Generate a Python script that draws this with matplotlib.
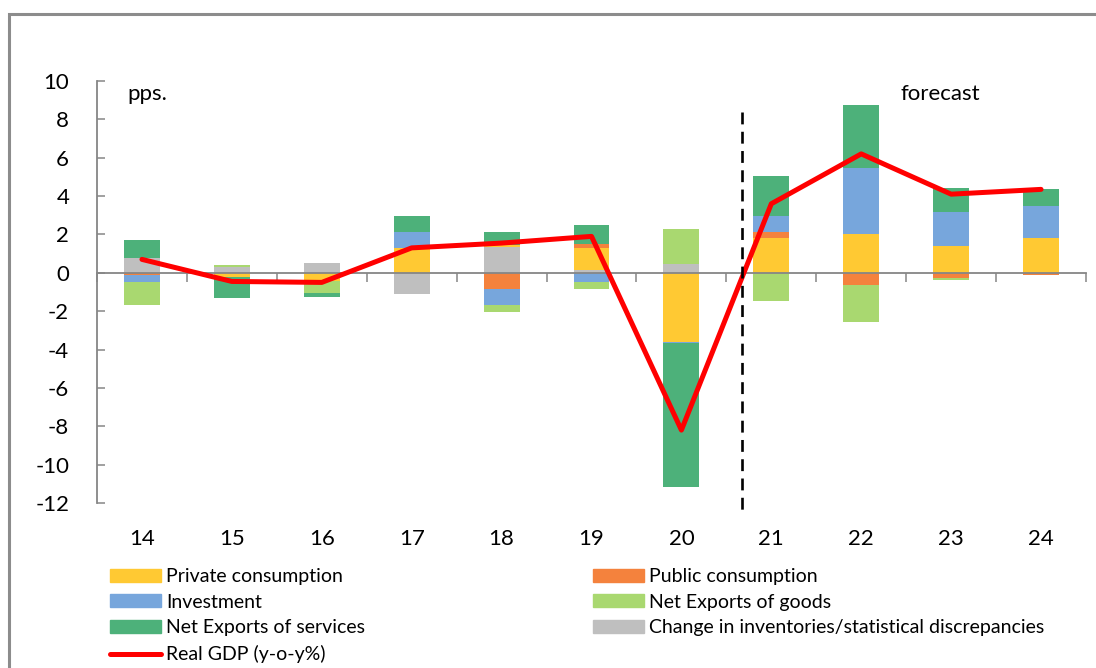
import matplotlib
matplotlib.use("Agg")
import matplotlib.pyplot as plt
from matplotlib.patches import Patch, Rectangle
from matplotlib.lines import Line2D
import numpy as np

plt.rcParams['font.family'] = ['Lato', 'DejaVu Sans']

years = ["14", "15", "16", "17", "18", "19", "20", "21", "22", "23", "24"]

inventories = [0.75, 0.30, 0.49, -1.10, 1.37, 0.16, 0.47, 0.0, 0.0, 0.0, 0.0]
private_cons = [0.0, -0.24, -0.45, 1.29, 0.07, 1.15, -3.60, 1.80, 2.02, 1.41, 1.82]
public_cons = [-0.10, 0.0, 0.0, 0.0, -0.85, 0.19, 0.0, 0.33, -0.66, -0.26, -0.12]
investment = [-0.40, 0.0, 0.0, 0.86, -0.82, -0.50, -0.05, 0.82, 3.47, 1.74, 1.67]
net_goods = [-1.20, 0.10, -0.60, 0.0, -0.38, -0.33, 1.81, -1.46, -1.93, -0.12, 0.0]
net_services = [0.95, -1.06, -0.19, 0.82, 0.71, 0.99, -7.50, 2.12, 3.26, 1.25, 0.90]
real_gdp = [0.70, -0.45, -0.50, 1.30, 1.55, 1.90, -8.20, 3.60, 6.20, 4.10, 4.35]

yticks = [10, 8, 6, 4, 2, 0, -2, -4, -6, -8, -10, -12]
forecast_x = 6.67

C_PRIV = '#FFC933'
C_PUB = '#F4823D'
C_INV = '#77A6DC'
C_GOODS = '#A9D870'
C_SERV = '#4DB17A'
C_INVT = '#BFBFBF'
C_AXIS = '#868686'

# stacking order (as drawn): inventories, private, public, investment, goods, services
stack = [
    (inventories, C_INVT),
    (private_cons, C_PRIV),
    (public_cons, C_PUB),
    (investment, C_INV),
    (net_goods, C_GOODS),
    (net_services, C_SERV),
]

fig = plt.figure(figsize=(10.96, 6.68), dpi=100)
ax = fig.add_axes([97/1096, 1-503/668, (1086-97)/1096, (503-81)/668])

x = np.arange(len(years))
pos_base = np.zeros(len(years))
neg_base = np.zeros(len(years))
for vals, col in stack:
    v = np.array(vals, dtype=float)
    bottoms = np.where(v >= 0, pos_base, neg_base)
    ax.bar(x, v, width=0.4, bottom=bottoms, color=col, edgecolor='none', zorder=2)
    pos_base = pos_base + np.where(v > 0, v, 0)
    neg_base = neg_base + np.where(v < 0, v, 0)

ax.plot(x, real_gdp, color='#FF0000', lw=3.6, solid_joinstyle='round',
        solid_capstyle='round', zorder=4)

ax.plot([forecast_x, forecast_x], [8.4, -12.7], color='black', lw=1.9,
        linestyle=(0, (4.5, 2.8)), clip_on=False, zorder=5)

ax.set_xlim(-0.5, len(years) - 0.5)
ax.set_ylim(-12, 10)

# spines
for s in ['top', 'right']:
    ax.spines[s].set_visible(False)
ax.spines['left'].set_color(C_AXIS)
ax.spines['left'].set_linewidth(1.3)
ax.spines['bottom'].set_position(('data', 0))
ax.spines['bottom'].set_color(C_AXIS)
ax.spines['bottom'].set_linewidth(1.3)
ax.spines['bottom'].set_zorder(3)

ax.set_yticks(yticks)
ax.set_yticklabels([str(t) for t in yticks])
ax.tick_params(axis='y', direction='in', length=6, width=1.1, color=C_AXIS,
               pad=20, labelsize=16)

ax.set_xticks(x)
ax.set_xticklabels([])
ax.set_xticks(np.arange(len(years) + 1) - 0.5, minor=True)
ax.tick_params(axis='x', which='major', length=0)
ax.tick_params(axis='x', which='minor', direction='out', length=6.5,
               width=1.1, color=C_AXIS)

sec = ax.secondary_xaxis('bottom')
sec.spines['bottom'].set_visible(False)
sec.set_xticks(x)
sec.set_xticklabels(years)
sec.tick_params(axis='x', length=0, pad=19, labelsize=16)

ax.text(0.031, 0.97, 'pps.', transform=ax.transAxes, fontsize=16,
        ha='left', va='center')
ax.text(0.812, 0.97, 'forecast', transform=ax.transAxes, fontsize=16,
        ha='left', va='center')

# outer frame
fig.add_artist(Rectangle((9/1096, -0.05), 1.2, 1 - 14.5/668 + 0.05,
                         transform=fig.transFigure, fill=False,
                         edgecolor='#8C8C8C', lw=2.2))

h1 = [Patch(color=C_PRIV), Patch(color=C_INV), Patch(color=C_SERV),
      Line2D([0], [0], color='#FF0000', lw=3.6, solid_capstyle='round')]
l1 = ['Private consumption', 'Investment', 'Net Exports of services',
      'Real GDP (y-o-y%)']
h2 = [Patch(color=C_PUB), Patch(color=C_GOODS), Patch(color=C_INVT)]
l2 = ['Public consumption', 'Net Exports of goods',
      'Change in inventories/statistical discrepancies']

common = dict(loc='upper left', frameon=False, fontsize=14, handlelength=2.6,
              handleheight=0.65, handletextpad=0.3, labelspacing=0.45,
              borderpad=0, borderaxespad=0)
fig.legend(h1, l1, bbox_to_anchor=(110/1096, 1 - 568/668), **common)
fig.legend(h2, l2, bbox_to_anchor=(593/1096, 1 - 568/668), **common)

fig.savefig('out.png', dpi=100)
